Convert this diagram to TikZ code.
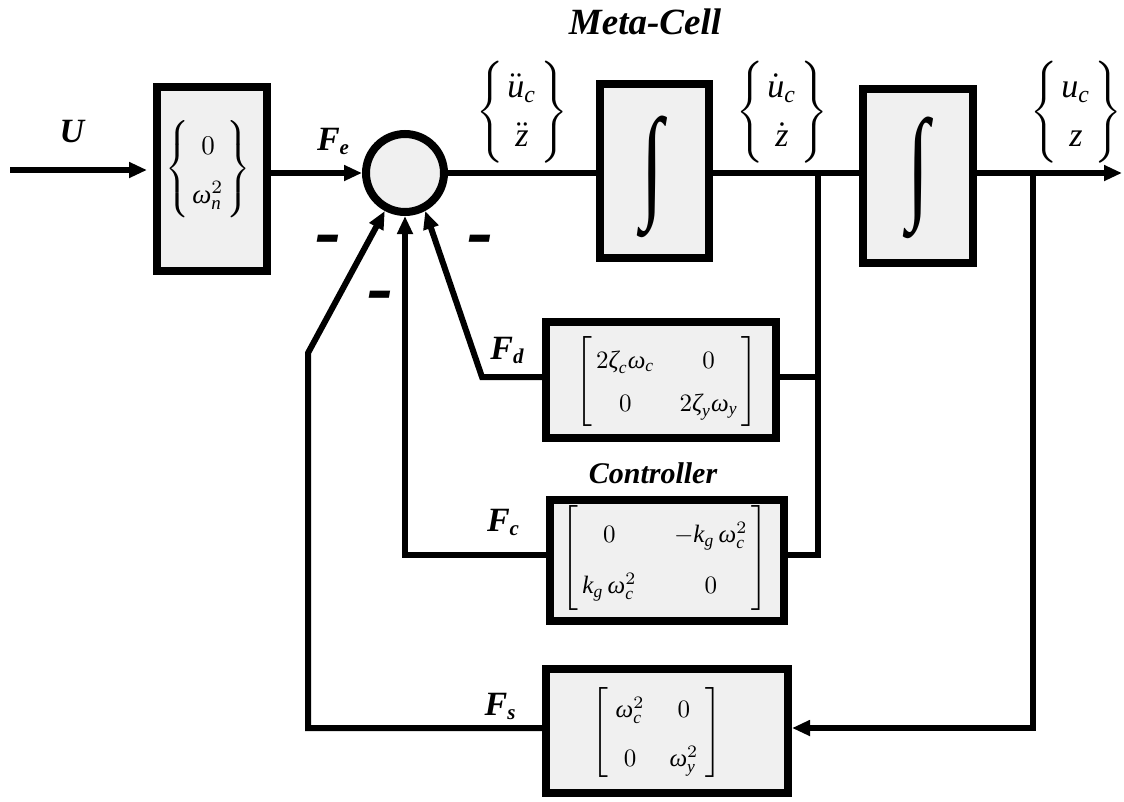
\documentclass[tikz,border=0pt]{standalone}
\usepackage{amsmath}
\usepackage{fontspec}
\setmainfont{Liberation Serif}
\usetikzlibrary{arrows.meta}
\definecolor{boxgray}{RGB}{240,240,240}
\newcommand\Flab[1]{F\raisebox{-4pt}{\fontsize{21}{21}\selectfont #1}}
\newcommand\gi[1]{\text{\normalfont\itshape #1}}
\begin{document}
\begin{tikzpicture}[x=1pt,y=-1pt,
  box/.style={draw, line width=8pt, fill=boxgray, inner sep=0pt, rectangle},
  sumnode/.style={draw, line width=8pt, fill=boxgray, circle, inner sep=0pt, minimum size=78pt},
  wire/.style={line width=6pt},
  arr/.style={wire, -{Triangle[length=18pt,width=15pt]}},
  lab/.style={font=\fontsize{34}{40}\selectfont\bfseries\itshape, inner sep=0pt},
  title/.style={font=\fontsize{37}{44}\selectfont\bfseries\itshape, inner sep=0pt},
  minussign/.style={font=\fontsize{60}{60}\selectfont\bfseries\itshape, inner sep=0pt},
  mth/.style={font=\fontsize{10}{12}\selectfont, inner sep=0pt},
  intsym/.style={font=\fontsize{80}{80}\selectfont, inner sep=0pt},
]
\useasboundingbox (0,0) rectangle (1124,801);

% blocks
\node[box, minimum width=110pt, minimum height=184pt] (b1) at (212,179) {};
\node[sumnode] (circ) at (405,173) {};
\node[box, minimum width=109pt, minimum height=174pt] (i1) at (654.5,171) {};
\node[box, minimum width=110pt, minimum height=174pt] (i2) at (918,176) {};
\node[box, minimum width=230pt, minimum height=116pt] (fd) at (661,380) {};
\node[box, minimum width=234pt, minimum height=121pt] (fc) at (667,560.5) {};
\node[box, minimum width=242pt, minimum height=124pt] (fs) at (667,731) {};

% block contents
\node[mth] (b1t) at (208,169) {\def\arraystretch{1.51}\scalebox{2.7}{$\left\{\begin{array}{@{\hspace{1pt}}c@{\hspace{1pt}}}0\\ \gi{ω}_{\mathit{n}}^2\end{array}\right\}$}};
\node[intsym] (i1t) at (652,177) {\scalebox{1}[1.55]{∫}};
\node[intsym] (i2t) at (918,178) {\scalebox{1}[1.55]{∫}};
\node[mth] (fdt) at (667,381) {\def\arraystretch{1.43}\scalebox{2.5}{$\left[\begin{array}{@{\hspace{1.5pt}}c@{\hspace{10pt}}c@{\hspace{1.5pt}}}2\gi{ζ}_{\mathit{c}}\gi{ω}_{\mathit{c}} & 0\\ 0 & 2\gi{ζ}_{\mathit{y}}\gi{ω}_{\mathit{y}}\end{array}\right]$}};
\node[mth] (fct) at (665,558) {\def\arraystretch{1.7}\scalebox{2.5}{$\left[\begin{array}{@{\hspace{1.5pt}}c@{\hspace{15pt}}c@{\hspace{1.5pt}}}0 & -\mathit{k}_{\mathit{g}}\,\gi{ω}_{\mathit{c}}^2\\ \mathit{k}_{\mathit{g}}\,\gi{ω}_{\mathit{c}}^2 & 0\end{array}\right]$}};
\node[mth] (fst) at (657,732) {\def\arraystretch{1.63}\scalebox{2.5}{$\left[\begin{array}{@{\hspace{3pt}}c@{\hspace{10pt}}c@{\hspace{3pt}}}\gi{ω}_{\mathit{c}}^2 & 0\\ 0 & \gi{ω}_{\mathit{y}}^2\end{array}\right]$}};

% coordinates
\coordinate (uin) at (10,170);
\coordinate (out) at (1122,173);
\coordinate (br1) at (818,173);
\coordinate (br2) at (1033,173);
\coordinate (fdk) at (482,377);
\coordinate (fck) at (405,555);
\coordinate (fsk1) at (308,728);
\coordinate (fsk2) at (308,353);

% connectors
\draw[arr, shorten >=6pt] (uin) -- (uin -| b1.west);
\draw[arr] (b1.east |- circ) -- (circ.west);
\draw[wire] (circ.east) -- (circ.east -| i1.west);
\draw[wire] (i1.east |- br1) -- (i2.west |- br1);
\draw[arr] (i2.east |- br2) -- (out);
\draw[wire] (br1) |- (fc.east |- fck);
\draw[wire] (br1 |- fdk) -- (fd.east |- fdk);
\draw[arr] (fd.west |- fdk) -- (fdk) -- (circ.-62);
\draw[arr] (fc.west |- fck) -- (fck) -- (circ.south);
\draw[arr] (fs.west |- fsk1) -- (fsk1) -- (fsk2) -- (circ.-118);
\draw[arr] (br2) |- (fs.east |- fsk1);

% labels
\node[lab] (lu) at (72,132) {U};
\node[lab] (lfe) at (333,141) {\Flab{e}};
\node[lab] (lfd) at (507,350) {\Flab{d}};
\node[lab] (lfc) at (503,522) {\Flab{c}};
\node[lab] (lfs) at (500,706) {\Flab{s}};
\node[title] (tmeta) at (645,22) {Meta-Cell};
\node[title, font=\fontsize{30}{36}\selectfont\bfseries\itshape] (tctrl) at (653,473) {Controller};
\node[minussign] (m1) at (328,247) {\scalebox{1.3}[1.4]{-}};
\node[minussign] (m2) at (380,303) {\scalebox{1.3}[1.4]{-}};
\node[minussign] (m3) at (480,247) {\scalebox{1.3}[1.4]{-}};
\node[mth] (v1) at (522,112) {\def\arraystretch{1.22}\scalebox{3.4}{$\left\{\begin{array}{@{\hspace{1pt}}c@{\hspace{1pt}}}\ddot{\mathit{u}}_{\mathit{c}}\\ \ddot{\mathit{z}}\end{array}\right\}$}};
\node[mth] (v2) at (782,112) {\def\arraystretch{1.22}\scalebox{3.4}{$\left\{\begin{array}{@{\hspace{1pt}}c@{\hspace{1pt}}}\dot{\mathit{u}}_{\mathit{c}}\\ \dot{\mathit{z}}\end{array}\right\}$}};
\node[mth] (v3) at (1076,112) {\def\arraystretch{1.22}\scalebox{3.4}{$\left\{\begin{array}{@{\hspace{1pt}}c@{\hspace{1pt}}}\mathit{u}_{\mathit{c}}\\ \mathit{z}\end{array}\right\}$}};
\end{tikzpicture}
\end{document}
